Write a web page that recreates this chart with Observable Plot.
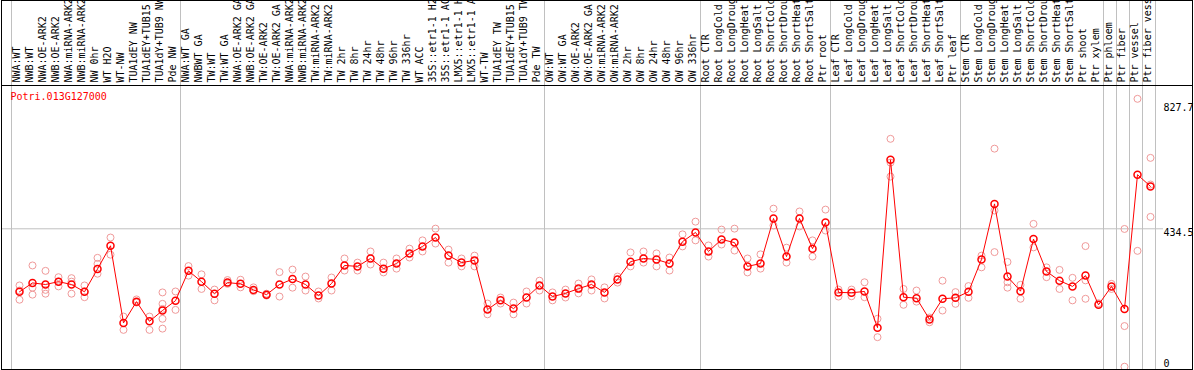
<!DOCTYPE html>
<html><head><meta charset="utf-8">
<script src="https://cdn.jsdelivr.net/npm/d3@7"></script>
<script src="https://cdn.jsdelivr.net/npm/@observablehq/plot@0.6"></script>
<style>
html,body{margin:0;padding:0;background:#fff;}
#chart svg{display:block;}
</style></head><body><div id="chart"></div>
<script>
const geneId = "Potri.013G127000";

const labels = [
"NWA:WT","NWB:WT","NWA:OE-ARK2","NWB:OE-ARK2","NWA:miRNA-ARK2","NWB:miRNA-ARK2","NW 0hr","WT H2O","WT-NW","TUA1dEY NW",
"TUA1dEY+TUB15 NW","TUA1dY+TUB9 NW","Pde NW","NWA:WT GA","NWBWT GA","TW:WT","TW:WT GA","NWA:OE-ARK2 GA","NWB:OE-ARK2 GA","TW:OE-ARK2",
"TW:OE-ARK2 GA","NWA:miRNA-ARK2","NWB:miRNA-ARK2","TW:miRNA-ARK2","TW:miRNA-ARK2","TW 2hr","TW 8hr","TW 24hr","TW 48hr","TW 96hr",
"TW 336hr","WT ACC","35S::etr1-1 H2O","35S::etr1-1 ACC","LMX5::etr1-1 H2O","LMX5::etr1-1 ACC","WT-TW","TUA1dEY TW","TUA1dEY+TUB15 TW","TUA1dY+TUB9 TW",
"Pde TW","OW:WT","OW:WT GA","OW:OE-ARK2","OW:OE-ARK2 GA","OW:miRNA-ARK2","OW:miRNA-ARK2","OW 2hr","OW 8hr","OW 24hr",
"OW 48hr","OW 96hr","OW 336hr","Root CTR","Root LongCold","Root LongDrought","Root LongHeat","Root LongSalt","Root ShortCold","Root ShortDrought",
"Root ShortHeat","Root ShortSalt","Ptr root","Leaf CTR","Leaf LongCold","Leaf LongDrought","Leaf LongHeat","Leaf LongSalt","Leaf ShortCold","Leaf ShortDrought",
"Leaf ShortHeat","Leaf ShortSalt","Ptr leaf","Stem CTR","Stem LongCold","Stem LongDrought","Stem LongHeat","Stem LongSalt","Stem ShortCold","Stem ShortDrought",
"Stem ShortHeat","Stem ShortSalt","Ptr shoot","Ptr xylem","Ptr phloem","Ptr fiber","Ptr vessel","Ptr fiber vessel"
];

const means = [
236,264,259,268,259,236,308,381,138,205,
143,177,208,302,268,230,265,261,242,227,
259,276,259,224,262,319,316,341,309,325,
357,379,407,350,328,335,180,209,183,218,
256,221,231,246,259,234,275,331,341,338,
325,394,423,363,401,391,316,325,467,347,
467,372,454,234,233,237,123,652,219,216,
149,214,217,236,338,513,284,238,402,300,
271,253,287,195,253,182,605,568
];

const replicates = [
[256,240,211],[319,249,227],[302,242,230],[282,268,253],[279,268,230],
[256,237,219],[343,324,293],[407,353],[158,116],[212,202],
[158,116],[234,198,182,151,120],[237,179],[317,287],[291,245],
[243,209],[273,261],[274,250],[250,238],[230,224],
[298,221],[306,249],[284,240],[237,215],[281,240],
[341,303],[328,303],[363,322],[328,297],[341,309],
[372,344],[398,363],[435,388],[369,328],[341,316],
[350,316],[199,165],[218,199],[202,165],[237,199],
[271,240],[234,209],[243,218],[262,231],[275,240],
[250,215],[284,265],[360,316],[363,328],[357,316],
[344,303],[417,379],[457,398],[382,347],[432,385],
[435,366],[341,297],[354,309],[498,445],[375,328],
[489,442],[398,347],[495,429],[243,221],[243,222],
[266,219],[151,93],[718,643,599],[245,195],[240,205],
[155,140],[271,177],[235,198],[254,217],[350,313],
[687,492,361],[330,266,249],[258,214],[450,376],[313,282],
[305,245],[280,209],[380,272,214],[200],[261,245],
[434,128,0],[844,365],[658,574,472]
];

const groupBounds = [0,13,41,53,63,73,84,85,86,87,88];
const yTicks = [0, 434.5, 827.7];

const font = "DejaVu Sans Mono";
const W = 1194;
const style = {fontFamily: font, fontSize: "10px", background: "#fff", overflow: "visible"};
const xScale = {domain: [1, labels.length], range: [19, 1150], axis: null};
const meanRows = labels.map((label, i) => ({i: i + 1, label, value: means[i]}));
const repRows = replicates.flatMap((vals, i) => vals.map(v => ({i: i + 1, value: v})));
const boundRows = groupBounds.map(b => ({x: b + 0.5}));

const header = Plot.plot({
  width: W, height: 85,
  marginTop: 0, marginBottom: 0, marginLeft: 1, marginRight: 2,
  x: xScale,
  style,
  marks: [
    Plot.ruleX(boundRows, {x: "x", stroke: "#c0c0c0", dx: -1.5}),
    Plot.text(meanRows, {x: "i", text: "label", frameAnchor: "bottom", rotate: -90, textAnchor: "start", dy: -3, fill: "#000"}),
    Plot.frame({stroke: "#000"})
  ]
});

const main = Plot.plot({
  width: W, height: 285,
  marginTop: 0, marginBottom: 1, marginLeft: 1, marginRight: 2,
  x: xScale,
  y: {domain: [0, 827.7], range: [281.2, 18.5], axis: null},
  style,
  marks: [
    Plot.ruleX(boundRows, {x: "x", stroke: "#c0c0c0", dx: -1.5}),
    Plot.ruleY([yTicks[1]], {stroke: "#c0c0c0", x1: -0.35, x2: 89}),
    Plot.text(yTicks.filter(t => t > 0), {y: d => d, text: d => String(d), frameAnchor: "right", dx: -29, textAnchor: "start", lineAnchor: "top", fill: "#000"}),
    Plot.text(yTicks.filter(t => t === 0), {y: d => d, text: d => String(d), frameAnchor: "right", dx: -29, textAnchor: "start", lineAnchor: "bottom", fill: "#000"}),
    Plot.text([geneId], {text: d => d, frameAnchor: "top-left", dx: 9, dy: 7, lineAnchor: "top", textAnchor: "start", fill: "red"}),
    Plot.dot(repRows, {x: "i", y: "value", r: 3.5, stroke: "#f09a9a", fill: "none", strokeWidth: 1}),
    Plot.line(meanRows, {x: "i", y: "value", stroke: "red", strokeWidth: 1}),
    Plot.dot(meanRows, {x: "i", y: "value", r: 3.5, stroke: "red", fill: "none", strokeWidth: 1.5}),
    Plot.frame({stroke: "#000"})
  ]
});

const root = document.getElementById("chart");
root.appendChild(header);
root.appendChild(main);
</script></body></html>
